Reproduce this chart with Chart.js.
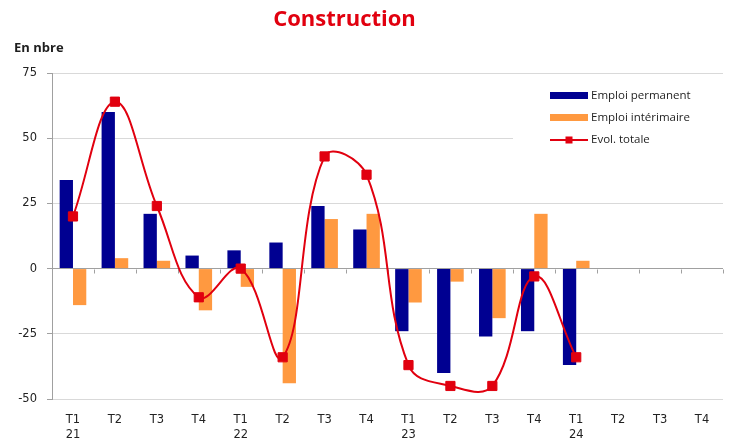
<!DOCTYPE html>
<html>
<head>
<meta charset="utf-8">
<script src="https://cdn.jsdelivr.net/npm/chart.js@4.4.0/dist/chart.umd.min.js"></script>
<style>
  html, body { margin: 0; padding: 0; background: #fff; }
  #wrap { position: relative; width: 732px; height: 446px; }
  #title { position: absolute; left: 0; top: 2px; width: 689px; text-align: center;
           font: bold 22px "Open Sans", sans-serif; color: #e1000f; }
  #unit { position: absolute; left: 14px; top: 38px; font: bold 13px "Open Sans", sans-serif; color: #1e1e1e; }
  canvas { position: absolute; left: 0; top: 0; }
</style>
</head>
<body>
<div id="wrap">
  <canvas id="chart" width="732" height="446"></canvas>
  <div id="title">Construction</div>
  <div id="unit">En nbre</div>
</div>
<script>
// Quarterly change in construction jobs
const quarters = ['T1', 'T2', 'T3', 'T4', 'T1', 'T2', 'T3', 'T4', 'T1', 'T2', 'T3', 'T4', 'T1', 'T2', 'T3', 'T4'];
const years = ['21', '', '', '', '22', '', '', '', '23', '', '', '', '24', '', '', ''];
const permanent = [34, 60, 21, 5, 7, 10, 24, 15, -24, -40, -26, -24, -37, null, null, null];
const interim = [-14, 4, 3, -16, -7, -44, 19, 21, -13, -5, -19, 21, 3, null, null, null];
const total = [20, 64, 24, -11, 0, -34, 43, 36, -37, -45, -45, -3, -34, null, null, null];
const yTicks = [-50, -25, 0, 25, 50, 75];

const labels = quarters.map((q, i) => [q, years[i]]);

const BLUE = '#000091';
const ORANGE = '#ff9940';
const RED = '#e1000f';
const AXIS = '#a0a0a0';

// x axis line sits at zero, with small ticks between quarters
const zeroAxis = {
  id: 'zeroAxis',
  beforeDatasetsDraw(chart) {
    const ctx = chart.ctx;
    const xs = chart.scales.x;
    const y0 = Math.round(chart.scales.y.getPixelForValue(0)) + 0.5;
    ctx.save();
    ctx.strokeStyle = AXIS;
    ctx.lineWidth = 1;
    ctx.beginPath();
    for (let i = 1; i <= labels.length; i++) {
      const px = Math.round(xs.getPixelForValue(i - 0.5)) + 0.5;
      ctx.moveTo(px, y0);
      ctx.lineTo(px, y0 + 4);
    }
    ctx.stroke();
    ctx.restore();
  }
};

// legend box inside the plot, white background over the grid
const boxLegend = {
  id: 'boxLegend',
  afterDatasetsDraw(chart) {
    const ctx = chart.ctx;
    const x = 550, w = 38;
    ctx.save();
    ctx.fillStyle = '#fff';
    ctx.fillRect(513, 80, 212, 72);
    ctx.font = '11.5px "Open Sans", sans-serif';
    ctx.textBaseline = 'middle';
    ctx.fillStyle = BLUE;
    ctx.fillRect(x, 92, w, 7);
    ctx.fillStyle = ORANGE;
    ctx.fillRect(x, 114, w, 7);
    ctx.strokeStyle = RED;
    ctx.lineWidth = 2;
    ctx.beginPath();
    ctx.moveTo(x, 140);
    ctx.lineTo(x + w, 140);
    ctx.stroke();
    ctx.fillStyle = RED;
    ctx.fillRect(x + w / 2 - 3.5, 136.5, 7, 7);
    ctx.fillStyle = '#1e1e1e';
    ctx.fillText('Emploi permanent', 591, 96);
    ctx.fillText('Emploi intérimaire', 591, 118);
    ctx.fillText('Evol. totale', 591, 140);
    ctx.restore();
  }
};

new Chart(document.getElementById('chart'), {
  data: {
    labels: labels,
    datasets: [
      {
        type: 'line',
        label: 'Evol. totale',
        data: total,
        borderColor: RED,
        backgroundColor: RED,
        borderWidth: 2,
        tension: 0.4,
        pointStyle: 'rect',
        pointRadius: 6.5,
        pointBorderWidth: 1,
        order: 0
      },
      {
        type: 'bar',
        label: 'Emploi permanent',
        data: permanent,
        backgroundColor: BLUE,
        categoryPercentage: 0.635,
        barPercentage: 1,
        order: 1
      },
      {
        type: 'bar',
        label: 'Emploi intérimaire',
        data: interim,
        backgroundColor: ORANGE,
        categoryPercentage: 0.635,
        barPercentage: 1,
        order: 1
      }
    ]
  },
  options: {
    responsive: false,
    animation: false,
    layout: { padding: { top: 73, right: 9, left: 0, bottom: 0 } },
    plugins: {
      legend: { display: false },
      tooltip: { enabled: false }
    },
    scales: {
      x: {
        grid: { display: false, drawTicks: false },
        border: { display: false },
        ticks: {
          color: '#222',
          padding: 14,
          maxRotation: 0,
          autoSkip: false,
          font: { family: '"DejaVu Sans"', size: 11.5, lineHeight: 1.3 }
        },
        afterFit(scale) { scale.height = 47; }
      },
      y: {
        min: -50,
        max: 75,
        afterBuildTicks(scale) { scale.ticks = yTicks.map(v => ({ value: v })); },
        grid: {
          color: ctx => (ctx.tick && ctx.tick.value === 0 ? AXIS : '#d9d9d9'),
          tickColor: AXIS,
          tickLength: 5
        },
        border: { color: AXIS },
        ticks: {
          color: '#222',
          padding: 10,
          font: { family: '"DejaVu Sans"', size: 11.5 }
        },
        afterFit(scale) { scale.width = 52; }
      }
    }
  },
  plugins: [zeroAxis, boxLegend]
});
</script>
</body>
</html>
